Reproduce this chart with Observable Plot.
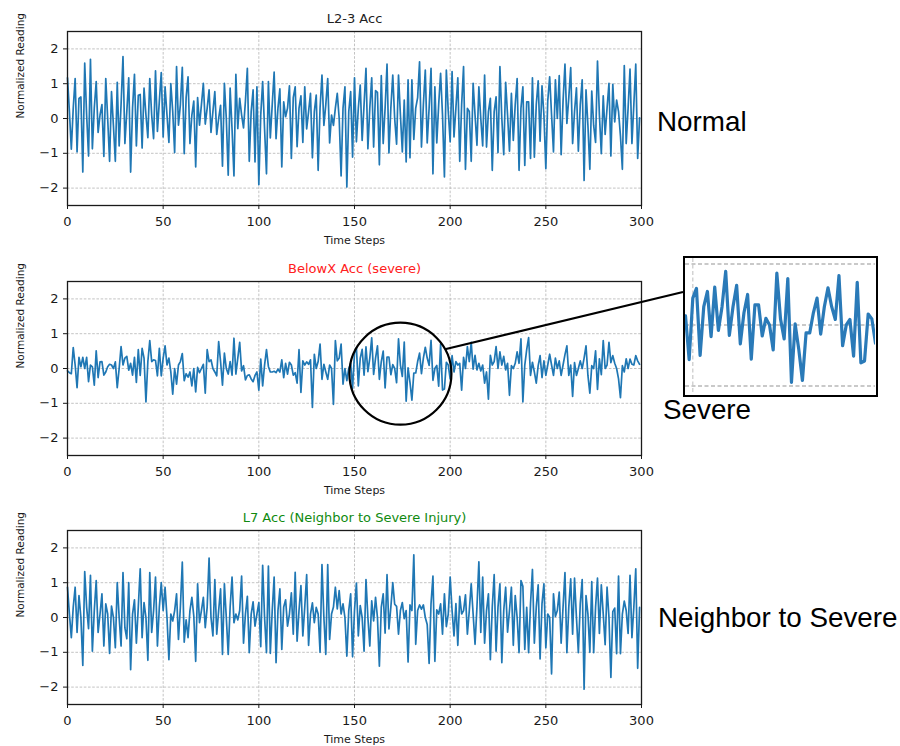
<!DOCTYPE html>
<html><head><meta charset="utf-8">
<script src="https://cdn.jsdelivr.net/npm/d3@7"></script>
<script src="https://cdn.jsdelivr.net/npm/@observablehq/plot@0.6"></script>
<style>
html,body{margin:0;padding:0;background:#fff;}
#root{position:relative;width:900px;height:746px;overflow:hidden;font-family:"DejaVu Sans",sans-serif;}
.panel{position:absolute;left:0;}
#inset{position:absolute;left:683px;top:256px;width:195px;height:141px;border:2.5px solid #000;box-sizing:border-box;background:#fff;overflow:hidden;}
#overlay{position:absolute;left:0;top:0;pointer-events:none;}
</style></head><body><div id="root"></div>
<script>
// ---------------- data ----------------
const l23Acc = [
1.17,0.2,-0.88,0.3,1.15,-0.96,0.58,0.62,-1.54,1.59,
0.1,-1.08,1.70,-0.87,0.3,1.06,-0.40,0.1,0.40,-1.09,
1.15,0.0,-1.23,0.77,-0.2,-1.23,1.04,-0.79,0.4,1.78,
-0.72,0.2,1.17,-1.54,0.3,1.27,-0.79,0.67,0.69,-0.85,
0.87,0.1,-0.55,1.15,0.1,-0.58,1.37,-0.37,0.5,1.32,
-0.53,0.91,0.1,-0.69,1.0,0.2,-0.98,1.49,-0.19,0.4,
1.47,-1.01,0.6,1.20,-0.72,0.1,0.50,-1.39,0.60,-0.19,
0.4,1.01,-0.16,0.3,0.82,-0.40,0.2,0.77,-0.46,0.0,
0.38,-1.37,1.01,0.0,-1.63,0.87,-0.3,-1.65,1.27,-0.29,
0.58,0.1,-0.27,0.5,1.44,-1.23,0.2,0.82,-1.25,0.91,
-1.9,0.1,1.06,-0.3,-1.59,1.06,-0.56,0.4,1.33,-0.58,
0.3,0.85,-1.39,0.48,0.05,0.3,0.94,-1.15,0.6,0.91,
-0.81,0.3,0.65,-0.69,0.91,-0.3,0.2,0.72,-1.13,0.2,
0.67,-1.49,0.3,1.25,-0.2,0.4,1.15,-0.70,0.1,-0.2,
0.3,0.72,0.0,-1.65,0.3,0.91,-1.97,0.2,0.77,-1.11,
1.17,-0.67,0.3,0.96,-0.63,0.4,1.44,-0.87,0.3,1.17,
-0.82,0.8,0.75,-1.33,1.23,-0.72,0.3,1.56,-0.99,0.3,
1.25,0.0,-0.74,1.25,0.1,-0.96,0.53,-1.25,1.11,-1.13,
1.11,-0.6,0.3,0.6,1.63,-0.82,0.4,1.39,-0.7,0.3,
1.44,-1.59,0.91,-0.7,0.4,1.30,0.1,-1.68,1.39,0.2,
-0.67,1.35,-0.53,0.3,1.17,-1.23,0.4,1.49,-1.46,0.29,
0.2,-1.23,1.01,0.1,-0.77,0.91,0.0,-0.79,1.25,-0.82,
0.2,0.58,-1.49,0.2,0.62,-0.98,1.49,0.0,-1.04,1.04,
0.1,-0.94,0.72,-0.63,0.4,1.15,-1.49,0.3,0.91,-1.35,
0.48,0.48,-1.15,1.17,-1.11,0.4,1.08,-0.65,0.94,0.1,
-1.44,0.5,1.20,0.1,-0.96,1.11,0.0,1.23,-1.04,0.5,
1.56,-0.14,0.6,1.46,-0.72,0.2,0.88,-0.94,0.4,1.11,
-1.78,0.82,-0.2,-1.46,0.79,-0.2,-0.69,1.65,0.1,-1.01,
0.65,-0.46,0.3,1.01,-1.08,0.98,-0.1,0.53,0.2,-0.5,
-1.46,1.52,-0.72,0.3,1.42,-0.72,0.4,1.56,-1.15,0.02
];
const belowXAcc = [
-0.07,-0.12,-0.15,0.6,0.1,-0.55,0.32,0.05,0.32,0.0,
0.32,-0.38,0.1,0.05,-0.48,0.51,-0.26,0.19,0.2,-0.19,
-0.1,0.05,0.12,0.1,0.0,0.19,-0.55,0.0,0.63,0.1,
0.3,0.35,-0.05,0.15,-0.19,0.32,-0.4,0.54,-0.2,0.58,
0.3,-0.96,0.2,0.8,0.2,0.25,0.23,-0.21,0.58,-0.21,
0.3,0.65,0.1,0.3,-0.1,-0.74,0.0,-0.45,0.1,0.2,
0.43,-0.35,-0.15,-0.25,-0.1,-0.5,0.0,-0.67,0.03,-0.12,
0.0,0.12,-0.71,0.54,0.2,0.25,0.0,-0.1,-0.21,0.77,
0.2,-0.48,0.44,0.0,-0.16,0.2,-0.19,0.87,-0.16,0.3,
0.75,-0.07,0.08,-0.33,-0.2,-0.18,-0.3,-0.38,-0.2,-0.1,
-0.62,0.27,-0.5,0.1,0.54,0.06,-0.1,-0.1,-0.08,-0.12,
-0.02,-0.1,0.25,-0.26,0.15,-0.16,0.18,0.1,-0.19,-0.12,
-0.42,0.54,-0.69,0.22,0.1,0.19,0.12,0.25,-1.12,0.41,
0.0,0.2,0.7,-0.31,0.12,-0.1,-0.31,0.1,0.0,-1.03,
0.8,0.22,0.3,0.7,-0.45,0.0,-0.35,0.0,0.15,-0.57,
0.44,0.6,-0.5,0.3,0.55,-0.19,0.62,-0.09,0.3,0.88,
-0.17,0.3,0.65,-0.31,0.2,0.5,-0.56,0.33,0.33,-0.18,
0.11,0.0,-0.41,0.85,0.1,-0.23,0.76,-0.94,0.02,-0.4,
-0.91,-0.13,-0.13,0.2,0.44,-0.15,0.3,0.61,0.3,0.09,
0.81,-0.34,0.0,0.09,-0.51,0.7,-0.62,-0.59,0.18,0.1,
-0.3,0.37,-0.1,0.2,0.1,0.15,-0.62,0.32,0.0,0.63,
0.2,0.75,-0.02,0.38,-0.04,0.15,-0.07,0.1,-0.42,-0.1,
-0.88,0.38,0.1,0.2,0.63,0.0,0.48,0.1,0.35,-0.04,
0.15,-0.77,0.08,0.0,0.15,0.48,0.15,0.85,-0.96,0.1,
0.54,0.89,-0.2,0.18,-0.1,-0.42,0.08,0.37,-0.26,0.22,
-0.2,0.1,0.41,0.1,-0.2,0.3,0.0,0.22,-0.2,0.1,
0.4,0.65,-0.2,0.1,-0.8,0.17,-0.2,0.0,0.22,0.0,
0.3,0.65,-0.2,-0.71,0.08,0.0,0.51,-0.6,0.28,-0.18,
0.8,0.0,0.1,0.75,0.17,0.37,0.15,0.0,-0.3,-0.84,
0.08,-0.1,0.28,0.0,0.27,0.12,0.1,0.37,0.22,0.12
];
const l7Acc = [
0.87,0.1,-0.58,0.3,0.87,-0.43,0.63,0.0,-1.38,1.32,
0.3,-0.32,1.21,-0.97,0.2,1.06,-0.43,0.1,0.68,-0.82,
0.39,0.1,-1.03,0.33,0.0,-0.87,1.0,0.0,-0.82,1.29,
-0.3,-0.61,1.0,-1.5,0.1,0.51,-0.74,0.3,1.4,-0.58,
0.43,0.0,-1.23,1.29,-0.43,0.2,1.16,-0.82,0.3,1.0,
0.2,0.87,0.0,-1.21,0.1,-0.1,0.2,0.68,-0.63,0.3,
1.59,-0.71,-0.07,-0.58,0.2,0.58,0.05,-1.26,0.97,-0.15,
0.2,0.58,-0.29,0.3,1.71,0.0,-0.53,1.09,-0.48,0.2,
0.82,-1.06,0.97,0.0,-1.06,0.3,1.16,-0.15,0.1,-0.07,
0.2,1.19,-0.74,0.1,0.61,-1.01,0.1,0.45,-0.25,0.1,
0.43,-0.84,1.5,0.0,-1.01,1.48,-1.03,0.2,1.16,-1.3,
0.2,0.82,-0.92,0.3,0.51,-0.25,0.1,0.71,-0.48,1.3,
-0.68,0.2,0.92,-0.53,0.3,1.23,-0.8,0.1,0.42,-0.15,
0.29,0.1,-1.0,1.52,0.0,-1.06,1.52,-0.63,0.1,0.3,
0.87,0.25,0.77,0.1,0.39,0.0,-1.11,0.2,0.68,-1.13,
0.2,0.99,-0.53,0.34,0.0,-0.97,1.09,0.0,-0.82,0.48,
-0.1,0.58,0.0,-1.4,0.3,0.68,-0.45,1.23,-0.33,0.3,
1.0,0.38,0.32,-0.48,0.2,0.43,-0.03,0.2,-1.28,0.36,
0.2,1.8,-0.77,0.2,0.36,0.24,0.36,0.0,-0.2,-1.32,
0.4,1.19,-1.26,0.22,0.1,0.39,-0.48,0.68,-0.26,0.1,
1.16,0.2,-0.53,0.4,-0.8,0.61,0.1,0.2,0.65,-0.48,
0.2,0.97,0.1,-0.77,0.3,1.6,-0.43,1.16,-0.74,0.2,
0.68,-1.21,0.3,1.23,-0.97,0.3,0.97,-1.3,0.2,0.87,
-0.42,0.2,0.87,-0.8,0.63,0.0,-1.01,1.06,0.9,-0.92,
0.29,-1.01,0.4,1.38,-0.74,0.3,0.94,-1.19,0.4,0.97,
-0.87,0.1,0.0,-1.62,0.68,0.03,0.2,0.73,-0.74,0.3,
1.29,-1.01,0.3,1.11,-0.48,1.13,0.0,-1.01,0.4,1.09,
-2.06,0.63,0.1,-1.0,1.03,-1.01,0.3,1.13,-0.46,0.94,
0.1,-0.78,0.87,0.0,-1.72,0.17,0.27,-1.04,1.19,-1.04,
0.1,0.47,0.2,-0.46,1.21,-0.58,0.3,1.4,-1.46,0.29
];
const xTicks = [0, 50, 100, 150, 200, 250, 300];
const yTicks = [-2, -1, 0, 1, 2];
const insetYTicks = [-1, 0, 1];
const insetXTicks = [150];
const panelTitles = ["L2-3 Acc", "BelowX Acc (severe)", "L7 Acc (Neighbor to Severe Injury)"];
const titleColors = ["#222222", "#ff2020", "#108a10"];
const xLabel = "Time Steps";
const yLabel = "Normalized Reading";
const sideLabels = ["Normal", "Severe", "Neighbor to Severe"];
const zoomWindow = [148, 200];   // time-step range shown in the "Severe" inset

// ---------------- drawing ----------------
const root = document.getElementById("root");
const series = [l23Acc, belowXAcc, l7Acc];
const panelTops = [0, 250, 499];
const gridStyle = {stroke: "#b4b4b4", strokeOpacity: 1, strokeWidth: 0.8, strokeDasharray: "2.6,1.6"};

function panel(values, k) {
  const data = values.map((v, i) => ({t: i, v}));
  const extra = [];
  if (k === 1) {
    extra.push(Plot.dot([zoomWindow], {
      x: d => (d[0] + d[1]) / 2, y: () => -0.15, r: 51,
      stroke: "#000", strokeWidth: 2.2, fill: "none"
    }));
  }
  return Plot.plot({
    width: 650, height: 250,
    marginLeft: 67, marginRight: 9, marginTop: 31, marginBottom: 45,
    style: {fontFamily: '"DejaVu Sans", sans-serif', fontSize: "13px", color: "#1a1a1a", background: "transparent", overflow: "visible"},
    x: {domain: [0, 300]},
    y: {domain: [-2.5, 2.5]},
    marks: [
      Plot.gridX(xTicks, gridStyle),
      Plot.gridY(yTicks, gridStyle),
      Plot.line(data, {x: "t", y: "v", stroke: "#1f77b4", strokeWidth: 1.7}),
      Plot.frame({stroke: "#1a1a1a", strokeWidth: 1.3}),
      Plot.axisX(xTicks, {tickSize: 4, tickPadding: 7, label: null, fontSize: 13}),
      Plot.axisY(yTicks, {tickSize: 4, tickPadding: 5, label: null, fontSize: 13}),
      Plot.text([panelTitles[k]], {frameAnchor: "top", lineAnchor: "bottom", dy: -9, fill: titleColors[k], fontSize: 13}),
      Plot.text([xLabel], {frameAnchor: "bottom", lineAnchor: "bottom", dy: 38, fontSize: 11}),
      Plot.text([yLabel], {frameAnchor: "left", rotate: -90, dx: -47, fontSize: 10.5}),
      ...extra
    ]
  });
}

const charts = series.map((vals, k) => {
  const c = panel(vals, k);
  c.classList.add("panel");
  c.style.top = panelTops[k] + "px";
  root.appendChild(c);
  return c;
});

// inset: zoom of the severe signal
const insetDiv = document.createElement("div");
insetDiv.id = "inset";
root.appendChild(insetDiv);
const insetData = belowXAcc.map((v, i) => ({t: i, v})).filter(d => d.t >= zoomWindow[0] - 1 && d.t <= zoomWindow[1] + 1);
const inset = Plot.plot({
  width: 190, height: 136, margin: 0,
  style: {background: "transparent"},
  x: {domain: zoomWindow, axis: null},
  y: {domain: [-1.14, 1.09], axis: null},
  marks: [
    Plot.gridY(insetYTicks, {stroke: "#b8b8b8", strokeOpacity: 1, strokeWidth: 1.4, strokeDasharray: "4,2.5"}),
    Plot.gridX(insetXTicks, {stroke: "#c8c8c8", strokeOpacity: 1, strokeWidth: 1.2, strokeDasharray: "4,2.5"}),
    Plot.line(insetData, {x: "t", y: "v", stroke: "#2a7ab8", strokeWidth: 3.2, clip: true})
  ]
});
insetDiv.appendChild(inset);

// overlay: connector and side labels
const sx = charts[1].scale("x"), sy = charts[1].scale("y");
const cx = sx.apply((zoomWindow[0] + zoomWindow[1]) / 2);
const cy = sy.apply(-0.15) + panelTops[1];
const ang = -28 * Math.PI / 180;
const svg = d3.select(root).append("svg").attr("id", "overlay").attr("width", 900).attr("height", 746);
svg.append("line")
  .attr("x1", cx + 51 * Math.cos(ang)).attr("y1", cy + 51 * Math.sin(ang))
  .attr("x2", 683).attr("y2", 292)
  .attr("stroke", "#000").attr("stroke-width", 2.2);
const sidePos = [[657, 131], [663, 419], [658, 627]];
svg.selectAll("text.side").data(sideLabels).join("text")
  .attr("class", "side")
  .attr("x", (d, i) => sidePos[i][0]).attr("y", (d, i) => sidePos[i][1])
  .attr("font-family", '"Liberation Sans", Arial, sans-serif')
  .attr("font-size", 27.8).attr("fill", "#000")
  .text(d => d);
</script></body></html>
